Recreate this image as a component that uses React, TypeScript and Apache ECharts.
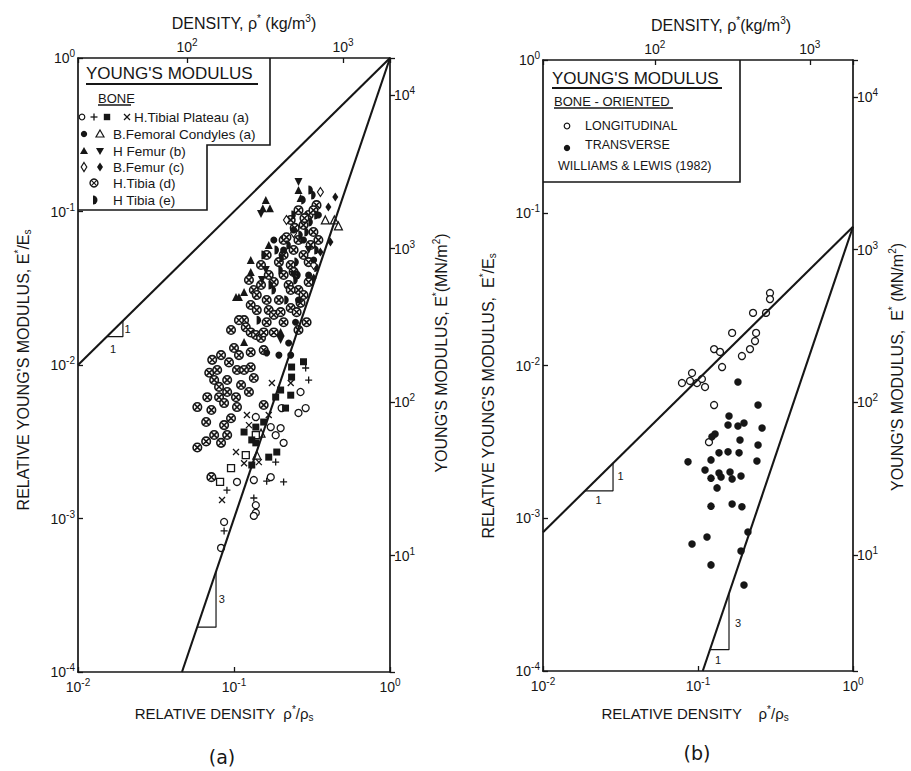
import { useEffect, useRef } from "react";
import * as echarts from "echarts";

const INK = "#161616";
const FONT = '"Liberation Sans", Arial, sans-serif';

// ===== Panel (a): [relative density ρ*/ρs, relative modulus E*/Es] =====
const plateauOpenCircles = [
  [0.267, 0.00667], [0.288, 0.00524], [0.259, 0.00487], [0.202, 0.00524], [0.138, 0.00458],
  [0.172, 0.00394], [0.199, 0.00388], [0.185, 0.00349], [0.208, 0.00311], [0.1045, 0.00173],
  [0.134, 0.00178], [0.172, 0.00186], [0.138, 0.00122], [0.138, 0.00109], [0.134, 0.00104],
  [0.0864, 0.000949], [0.0826, 0.000643],
];
const plateauPlus = [
  [0.288, 0.00956], [0.301, 0.00798], [0.185, 0.00233], [0.162, 0.00175], [0.208, 0.00173],
  [0.0901, 0.00153], [0.134, 0.00136], [0.0864, 0.00083],
];
const plateauFilledSquares = [
  [0.279, 0.0105], [0.234, 0.0097], [0.234, 0.00834], [0.199, 0.00687], [0.185, 0.00618],
  [0.231, 0.00636], [0.214, 0.00524], [0.155, 0.00425], [0.138, 0.00394], [0.13, 0.00325],
  [0.138, 0.00311], [0.116, 0.00366], [0.167, 0.00251], [0.188, 0.00271], [0.13, 0.00223],
];
const plateauCrosses = [
  [0.175, 0.00763], [0.231, 0.00763], [0.167, 0.00472], [0.121, 0.00472], [0.1247, 0.00406],
  [0.103, 0.00271], [0.116, 0.00229], [0.1443, 0.00233], [0.0838, 0.00132],
];
const plateauOpenSquares = [[0.119, 0.00259], [0.0957, 0.00213], [0.0814, 0.00173], [0.138, 0.00349]];
const condylesFilledCircles = [
  [0.224, 0.0139], [0.231, 0.0116], [0.162, 0.012], [0.194, 0.0116], [0.248, 0.019],
  [0.259, 0.0265], [0.301, 0.0385], [0.324, 0.0483], [0.279, 0.0652], [0.208, 0.0561],
  [0.18, 0.0652], [0.241, 0.0757], [0.3475, 0.0949],
];
const condylesOpenTriangles = [[0.385, 0.0881], [0.44, 0.0881], [0.467, 0.0805], [0.149, 0.0036], [0.14, 0.00259]];
const femurUpTriangles = [
  [0.16, 0.119], [0.17, 0.105], [0.153, 0.105], [0.267, 0.1225], [0.259, 0.138], [0.167, 0.0604],
  [0.128, 0.0483], [0.128, 0.0404], [0.1076, 0.0277], [0.116, 0.0299], [0.103, 0.0277],
  [0.199, 0.0164], [0.116, 0.0141],
];
const femurDownTriangles = [
  [0.259, 0.1557], [0.149, 0.0963], [0.16, 0.0416], [0.151, 0.0358], [0.199, 0.01455],
  [0.241, 0.0386], [0.301, 0.0561],
];
const bFemurOpenDiamonds = [[0.358, 0.134], [0.241, 0.0724], [0.217, 0.0881], [0.324, 0.0448]];
const bFemurFilledDiamonds = [[0.446, 0.1244], [0.4027, 0.107], [0.358, 0.0544], [0.415, 0.0633], [0.324, 0.0369]];
const tibiaCrossedCircles = [
  [0.259, 0.102], [0.301, 0.0949], [0.338, 0.11], [0.279, 0.0817], [0.323, 0.0735], [0.259, 0.0652],
  [0.31, 0.0605], [0.3475, 0.0652], [0.241, 0.0561], [0.279, 0.0521], [0.208, 0.0521], [0.194, 0.0468],
  [0.231, 0.0448], [0.301, 0.0468], [0.134, 0.0308], [0.149, 0.0332], [0.18, 0.0347], [0.224, 0.0332],
  [0.259, 0.0308], [0.301, 0.0347], [0.128, 0.0246], [0.14, 0.0228], [0.116, 0.0196], [0.119, 0.0176],
  [0.128, 0.0163], [0.138, 0.0157], [0.149, 0.015], [0.155, 0.0163], [0.18, 0.0163], [0.208, 0.019],
  [0.231, 0.0235], [0.252, 0.0221], [0.267, 0.0254], [0.1, 0.0129], [0.1076, 0.0116], [0.0826, 0.0116],
  [0.128, 0.0121], [0.167, 0.0228], [0.194, 0.0265], [0.259, 0.0169], [0.292, 0.019], [0.279, 0.0286],
  [0.0694, 0.0089], [0.078, 0.00928], [0.0746, 0.00798], [0.0904, 0.00798], [0.1045, 0.00928],
  [0.111, 0.00741], [0.0802, 0.0072], [0.0674, 0.00617], [0.0802, 0.00617], [0.0864, 0.00565],
  [0.103, 0.00617], [0.1045, 0.00532], [0.0582, 0.00532], [0.0663, 0.00425], [0.0864, 0.00406],
  [0.0904, 0.0035], [0.0826, 0.00311], [0.0582, 0.0029], [0.0663, 0.00318], [0.128, 0.00967],
  [0.134, 0.00823], [0.155, 0.00549], [0.0957, 0.0045], [0.0716, 0.00186], [0.0725, 0.0108],
  [0.0929, 0.0104], [0.1247, 0.00667], [0.155, 0.0125], [0.18, 0.0212], [0.167, 0.0386],
  [0.208, 0.0652], [0.231, 0.0881], [0.323, 0.102], [0.283, 0.0906], [0.245, 0.0782], [0.217, 0.068],
  [0.162, 0.0521], [0.149, 0.0448], [0.208, 0.0386], [0.241, 0.0404], [0.1247, 0.0358], [0.14, 0.0286],
  [0.162, 0.0265], [0.199, 0.0221], [0.231, 0.0308], [0.1076, 0.0196], [0.0957, 0.0169], [0.162, 0.019],
  [0.116, 0.00928], [0.0904, 0.00667], [0.0716, 0.00509], [0.0746, 0.0035],
];
const tibiaHalfDiscs = [
  [0.279, 0.119], [0.31, 0.138], [0.338, 0.0949], [0.241, 0.0949], [0.292, 0.0735], [0.224, 0.0605],
  [0.188, 0.0561], [0.252, 0.0468], [0.199, 0.0416], [0.155, 0.0521], [0.338, 0.0432], [0.217, 0.0265],
  [0.18, 0.0308], [0.248, 0.0358], [0.1443, 0.0196], [0.31, 0.0855], [0.267, 0.0703], [0.338, 0.0561],
  [0.202, 0.0498], [0.259, 0.0386], [0.172, 0.0332], [0.323, 0.1281],
];
const aLineSlope1 = [[0.01, 0.01], [1, 1]];
const aLineSlope3 = [[0.0464, 0.0001], [1, 1]];
const aTriangle1 = [[0.0153, 0.0153], [0.0194, 0.0153], [0.0194, 0.0194]];
const aTriangle3 = [[0.0581, 0.000196], [0.0767, 0.000196], [0.0767, 0.000451]];
const aTriangleLabels = [
  { name: "1", value: [0.0208, 0.0172] },
  { name: "1", value: [0.0168, 0.0128] },
  { name: "3", value: [0.0835, 0.000297] },
];

// ===== Panel (b): bone, oriented =====
const longitudinal = [
  [0.0788, 0.00768], [0.0888, 0.00792], [0.0915, 0.00893], [0.0985, 0.00768], [0.106, 0.00816],
  [0.111, 0.00723], [0.127, 0.0128], [0.1387, 0.01227], [0.143, 0.00977], [0.166, 0.01634],
  [0.192, 0.01153], [0.2165, 0.0128], [0.2332, 0.01446], [0.237, 0.01634], [0.2265, 0.0221],
  [0.2746, 0.0221], [0.2914, 0.0298], [0.2914, 0.0272], [0.127, 0.00551], [0.1177, 0.00315],
];
const transverse = [
  [0.181, 0.0078], [0.244, 0.00551], [0.1585, 0.00467], [0.1562, 0.00408], [0.181, 0.00402],
  [0.198, 0.0042], [0.1288, 0.00356], [0.123, 0.00341], [0.1866, 0.00325], [0.259, 0.0039],
  [0.244, 0.00302], [0.0862, 0.00234], [0.1213, 0.00241], [0.1366, 0.00268], [0.1562, 0.00272],
  [0.184, 0.00268], [0.24, 0.00237], [0.111, 0.00207], [0.1213, 0.00183], [0.1366, 0.00198],
  [0.1408, 0.00186], [0.1609, 0.00201], [0.166, 0.00181], [0.1894, 0.00189], [0.1327, 0.00158],
  [0.1213, 0.0012], [0.166, 0.00124], [0.192, 0.00119], [0.21, 0.000813], [0.1143, 0.000753],
  [0.0915, 0.000678], [0.1894, 0.00061], [0.1213, 0.000495], [0.198, 0.000366],
];
const bLineSlope1 = [[0.01, 0.00081], [1, 0.081]];
const bLineSlope3 = [[0.1073, 0.0001], [1, 0.081]];
const bTriangle1 = [[0.01866, 0.001512], [0.0283, 0.001512], [0.0283, 0.002292]];
const bTriangle3 = [[0.1194, 0.0001379], [0.1585, 0.0001379], [0.1585, 0.0003225]];
const bTriangleLabels = [
  { name: "1", value: [0.0316, 0.00188] },
  { name: "1", value: [0.0228, 0.00132] },
  { name: "3", value: [0.181, 0.000206] },
  { name: "1", value: [0.1346, 0.000118] },
];

// ===== axis ranges =====
const relDensityRange = [0.01, 1];
const relModulusRange = [0.0001, 1];
const densityRangeA = [20, 2000]; // kg/m3
const densityRangeB = [19, 1900]; // kg/m3
const modulusRange = [1.742, 17420]; // MN/m2

const PLUS = "path://M5,0L5,10M0,5L10,5";
const CROSS = "path://M0,0L10,10M10,0L0,10";
const OTIMES = "path://M10,5A5,5,0,1,1,0,5A5,5,0,1,1,10,5ZM1.6,1.6L8.4,8.4M8.4,1.6L1.6,8.4";
const HALF = "path://M0,0A5,5,0,0,1,0,10Z";

const decade = (v: number) => {
  const e = Math.log10(v);
  const r = Math.round(e);
  return Math.abs(e - r) < 0.02 ? `{b|10}{s|${r}}` : "";
};
const axisRich = {
  b: { fontSize: 14, fontFamily: FONT, color: INK },
  s: { fontSize: 10, fontFamily: FONT, color: INK, padding: [0, 0, 9, 0] },
};

function axis(gridIndex: number, position: string, range: number[], tickInside: boolean, margin: number) {
  return {
    type: "log",
    logBase: 10,
    gridIndex,
    position,
    min: range[0],
    max: range[1],
    axisLine: { show: true, onZero: false, lineStyle: { color: INK, width: 1.7 } },
    axisTick: { show: true, inside: tickInside, length: 5, lineStyle: { color: INK, width: 1.3 } },
    axisLabel: { formatter: decade, rich: axisRich, margin, color: INK },
    splitLine: { show: false },
    minorTick: { show: false },
    minorSplitLine: { show: false },
  };
}

function scatter(data: any, xi: number, symbol: string, size: any, fill: string, stroke: number, extra: any = {}) {
  return {
    type: "scatter",
    xAxisIndex: xi,
    yAxisIndex: xi,
    data,
    symbol,
    symbolSize: size,
    silent: true,
    itemStyle: { color: fill, borderColor: INK, borderWidth: stroke, opacity: 1 },
    ...extra,
  };
}
function line(data: any, xi: number, width: number) {
  return {
    type: "line",
    xAxisIndex: xi,
    yAxisIndex: xi,
    data,
    symbol: "none",
    silent: true,
    color: INK,
    lineStyle: { color: INK, width },
  };
}

const RICH = (size: number) => ({
  s: { fontSize: Math.round(size * 0.65), fontFamily: FONT, fill: INK, padding: [0, 0, Math.round(size * 0.55), 0] },
  u: { fontSize: Math.round(size * 0.65), fontFamily: FONT, fill: INK, padding: [Math.round(size * 0.55), 0, 0, 0] },
});
function txt(x: number, y: number, text: string, size: number, align = "left", rot = 0, family = FONT) {
  return {
    type: "text",
    x,
    y,
    rotation: rot,
    silent: true,
    style: {
      text,
      fontSize: size,
      fontFamily: family,
      fill: INK,
      align,
      textAlign: align,
      verticalAlign: "middle",
      textVerticalAlign: "middle",
      rich: RICH(size),
    },
  };
}
function seg(x1: number, y1: number, x2: number, y2: number, w = 1.3) {
  return { type: "line", silent: true, shape: { x1, y1, x2, y2 }, style: { stroke: INK, lineWidth: w } };
}
function lsym(kind: string, x: number, y: number): any {
  const open = { fill: "#fff", stroke: INK, lineWidth: 1.2 };
  const solid = { fill: INK };
  switch (kind) {
    case "oc": return { type: "circle", shape: { cx: x, cy: y, r: 2.8 }, style: open };
    case "fc": return { type: "circle", shape: { cx: x, cy: y, r: 3.2 }, style: solid };
    case "plus": return { type: "group", children: [seg(x - 3.5, y, x + 3.5, y), seg(x, y - 3.5, x, y + 3.5)] };
    case "x": return { type: "group", children: [seg(x - 3, y - 3, x + 3, y + 3), seg(x + 3, y - 3, x - 3, y + 3)] };
    case "fsq": return { type: "rect", shape: { x: x - 3.2, y: y - 3.2, width: 6.4, height: 6.4 }, style: solid };
    case "otri": return { type: "polygon", shape: { points: [[x, y - 4], [x + 4, y + 3], [x - 4, y + 3]] }, style: open };
    case "ftri": return { type: "polygon", shape: { points: [[x, y - 4], [x + 4, y + 3], [x - 4, y + 3]] }, style: solid };
    case "dtri": return { type: "polygon", shape: { points: [[x - 4, y - 3], [x + 4, y - 3], [x, y + 4]] }, style: solid };
    case "odia": return { type: "polygon", shape: { points: [[x, y - 4.5], [x + 2.8, y], [x, y + 4.5], [x - 2.8, y]] }, style: open };
    case "fdia": return { type: "polygon", shape: { points: [[x, y - 4.5], [x + 3, y], [x, y + 4.5], [x - 3, y]] }, style: solid };
    case "otimes": return {
      type: "group",
      children: [
        { type: "circle", shape: { cx: x, cy: y, r: 4 }, style: { fill: "#fff", stroke: INK, lineWidth: 1.4 } },
        seg(x - 2.7, y - 2.7, x + 2.7, y + 2.7, 1.1),
        seg(x + 2.7, y - 2.7, x - 2.7, y + 2.7, 1.1),
      ],
    };
    case "half": return { type: "sector", shape: { cx: x - 2, cy: y, r: 4.5, r0: 0, startAngle: -Math.PI / 2, endAngle: Math.PI / 2, clockwise: true }, style: solid };
  }
  return null;
}

export default function App() {
  const ref = useRef<HTMLDivElement>(null);
  useEffect(() => {
    if (!ref.current) return;
    const chart = echarts.init(ref.current, null, { renderer: "svg" });
    const graphic: any[] = [
      // panel (a) titles
      txt(244, 23, "DENSITY, ρ{s|*} (kg/m{s|3})", 16, "center"),
      txt(224, 713, "RELATIVE DENSITY  ρ{s|*}/ρ{u|s}", 15, "center"),
      txt(23, 370, "RELATIVE YOUNG'S MODULUS, E{s|*}/E{u|s}", 16, "center", Math.PI / 2),
      txt(441, 353, "YOUNG'S MODULUS, E{s|*}(MN/m{s|2})", 16, "center", Math.PI / 2),
      txt(222, 757, "(a)", 19, "center", 0, '"DejaVu Sans", sans-serif'),
      // panel (a) legend
      { type: "polyline", silent: true, shape: { points: [[270, 58], [270, 145], [207, 145], [207, 210], [78, 210]] }, style: { stroke: INK, lineWidth: 1.6, fill: "none" } },
      txt(86, 73, "YOUNG'S MODULUS", 17),
      seg(86, 84, 258, 84, 1.8),
      txt(98, 98, "BONE", 13),
      seg(98, 105, 131, 105, 1.3),
      lsym("oc", 82, 117), lsym("plus", 94, 117), lsym("fsq", 107, 117), lsym("x", 127, 117),
      txt(134, 117, "H.Tibial Plateau (a)", 13.5),
      lsym("fc", 84, 134), lsym("otri", 100, 134),
      txt(113, 134, "B.Femoral Condyles (a)", 13.5),
      lsym("ftri", 84, 151), lsym("dtri", 100, 151),
      txt(113, 151, "H Femur (b)", 13.5),
      lsym("odia", 84, 167), lsym("fdia", 100, 167),
      txt(113, 167, "B.Femur (c)", 13.5),
      lsym("otimes", 94, 183),
      txt(113, 183, "H.Tibia (d)", 13.5),
      lsym("half", 95, 200),
      txt(113, 200, "H Tibia (e)", 13.5),
      // panel (b) titles
      txt(721, 25, "DENSITY, ρ{s|*}(kg/m{s|3})", 16, "center"),
      txt(695, 713, "RELATIVE DENSITY    ρ{s|*}/ρ{u|s}", 15, "center"),
      txt(488, 396, "RELATIVE YOUNG'S MODULUS,  E{s|*}/E{u|s}", 16, "center", Math.PI / 2),
      txt(897, 367, "YOUNG'S MODULUS,  E{s|*} (MN/m{s|2})", 16, "center", Math.PI / 2),
      txt(697, 753, "(b)", 19, "center", 0, '"DejaVu Sans", sans-serif'),
      // panel (b) legend
      { type: "polyline", silent: true, shape: { points: [[740, 60], [740, 182], [543, 182]] }, style: { stroke: INK, lineWidth: 1.6, fill: "none" } },
      txt(552, 78, "YOUNG'S MODULUS", 17),
      seg(552, 88, 722, 88, 1.8),
      txt(554, 101, "BONE - ORIENTED", 13),
      seg(554, 108, 673, 108, 1.3),
      lsym("oc", 567, 126),
      txt(585, 126, "LONGITUDINAL", 12.5),
      lsym("fc", 567, 148),
      txt(585, 145, "TRANSVERSE", 12.5),
      txt(558, 166, "WILLIAMS & LEWIS (1982)", 12.5),
    ];

    const option: any = {
      animation: false,
      backgroundColor: "#fff",
      color: [INK],
      textStyle: { fontFamily: FONT, color: INK },
      grid: [
        { left: 78, top: 58, width: 312, height: 614, outerBoundsMode: "none", show: false },
        { left: 543, top: 60, width: 310, height: 611, outerBoundsMode: "none", show: false },
      ],
      xAxis: [
        axis(0, "bottom", relDensityRange, true, 5),
        axis(1, "bottom", relDensityRange, true, 5),
        axis(0, "top", densityRangeA, true, 2),
        axis(1, "top", densityRangeB, true, 2),
      ],
      yAxis: [
        axis(0, "left", relModulusRange, true, 3),
        axis(1, "left", relModulusRange, true, 3),
        axis(0, "right", modulusRange, false, 4),
        axis(1, "right", modulusRange, false, 4),
      ],
      series: [
        line(aLineSlope1, 0, 2.1),
        line(aLineSlope3, 0, 2.1),
        line(aTriangle1, 0, 1.2),
        line(aTriangle3, 0, 1.2),
        scatter(tibiaCrossedCircles, 0, OTIMES, 8.5, "#fff", 1.6),
        scatter(tibiaHalfDiscs, 0, HALF, 9, INK, 0, { symbolKeepAspect: true }),
        scatter(femurUpTriangles, 0, "triangle", 8, INK, 0),
        scatter(femurDownTriangles, 0, "triangle", 8, INK, 0, { symbolRotate: 180 }),
        scatter(bFemurOpenDiamonds, 0, "diamond", [6, 9], "#fff", 1.2),
        scatter(bFemurFilledDiamonds, 0, "diamond", [6, 9], INK, 0),
        scatter(condylesFilledCircles, 0, "circle", 7, INK, 0),
        scatter(condylesOpenTriangles, 0, "triangle", 8, "#fff", 1.2),
        scatter(plateauOpenCircles, 0, "circle", 7, "#fff", 1.3),
        scatter(plateauOpenSquares, 0, "rect", 7, "#fff", 1.3),
        scatter(plateauFilledSquares, 0, "rect", 7, INK, 0),
        scatter(plateauPlus, 0, PLUS, 7, "#fff", 1.3),
        scatter(plateauCrosses, 0, CROSS, 6, "#fff", 1.3),
        line(bLineSlope1, 1, 2.1),
        line(bLineSlope3, 1, 2.1),
        line(bTriangle1, 1, 1.2),
        line(bTriangle3, 1, 1.2),
        scatter(longitudinal, 1, "circle", 7, "#fff", 1.3),
        scatter(transverse, 1, "circle", 7.5, INK, 0),
      ],
    };
    chart.setOption(option);

    // slope labels placed through the axes' own scales
    const slopeLabels: any[] = [];
    const place = (list: any[], gi: number) => {
      list.forEach((d) => {
        const p = chart.convertToPixel({ xAxisIndex: gi, yAxisIndex: gi } as any, d.value) as any;
        if (p && isFinite(p[0]) && isFinite(p[1])) slopeLabels.push(txt(p[0], p[1], d.name, 11, "center"));
      });
    };
    place(aTriangleLabels, 0);
    place(bTriangleLabels, 1);
    chart.setOption({ graphic: [...graphic, ...slopeLabels] });
    return () => chart.dispose();
  }, []);
  return <div ref={ref} style={{ position: "fixed", left: 0, top: 0, width: 911, height: 771, background: "#fff" }} />;
}
